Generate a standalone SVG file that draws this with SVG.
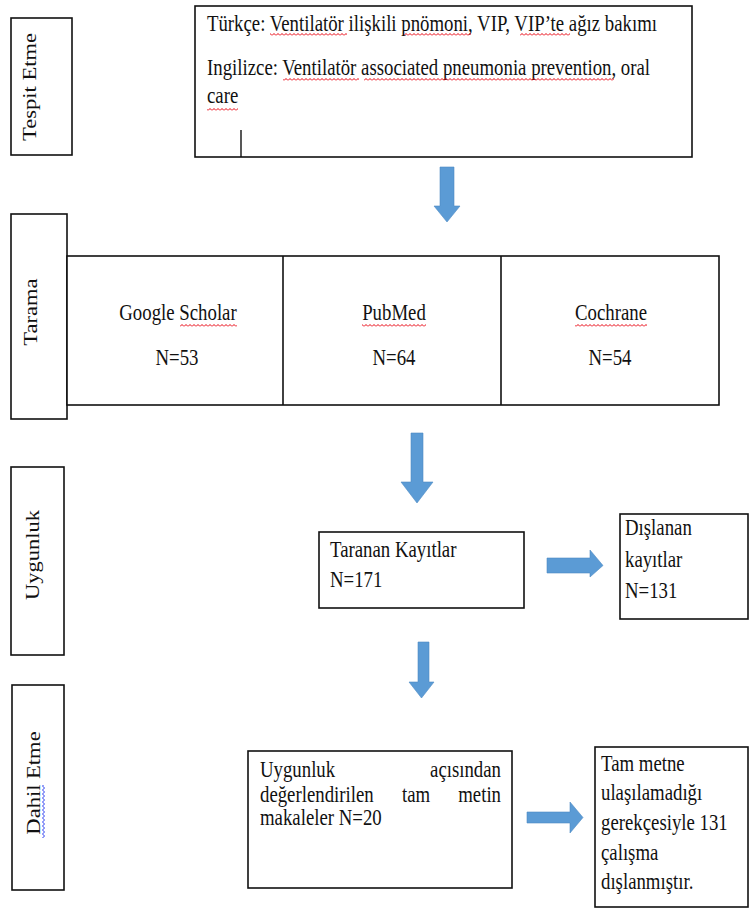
<svg xmlns="http://www.w3.org/2000/svg" width="749" height="908" viewBox="0 0 749 908">
<style>
.box{fill:#fff;stroke:#111;stroke-width:1.6}
.t{font-family:"Liberation Serif","Times New Roman",serif;font-size:18.8px;fill:#111}
.m{text-anchor:middle}
.e{text-anchor:end}
.arr{fill:#5B9BD5;stroke:#4F8BC4;stroke-width:0.6}
</style>
<defs>
<pattern id="sq" width="4" height="3" patternUnits="userSpaceOnUse"><path d="M0 2.5 L2 0.5 L4 2.5" fill="none" stroke="#e8000b" stroke-width="1"/></pattern>
<pattern id="sqb" width="3" height="4" patternUnits="userSpaceOnUse"><path d="M2.5 0 L0.5 2 L2.5 4" fill="none" stroke="#2a3cf0" stroke-width="1"/></pattern>
</defs>
<rect width="749" height="908" fill="#fff"/>

<g id="label-tespit">
<rect class="box" x="11" y="18" width="61" height="137"/>
<text class="t m" transform="translate(36,87) rotate(-90) scale(1.2,1)">Tespit Etme</text>
</g>

<g id="node-keywords">
<rect class="box" x="195" y="6" width="497" height="151"/>
<line x1="241" y1="130" x2="241" y2="157" stroke="#111" stroke-width="1.4"/>
<text class="t" transform="translate(207,31) scale(1,1.2)">Türkçe: Ventilatör ilişkili pnömoni, VIP, VIP’te ağız bakımı</text>
<text class="t" transform="translate(207,75) scale(1,1.2)">Ingilizce: Ventilatör associated pneumonia prevention, oral</text>
<text class="t" transform="translate(207,103) scale(1,1.2)">care</text>
<rect x="270" y="33" width="77" height="3" fill="url(#sq)"/>
<rect x="404" y="33" width="67" height="3" fill="url(#sq)"/>
<rect x="520" y="33" width="50" height="3" fill="url(#sq)"/>
<rect x="283" y="78" width="76" height="3" fill="url(#sq)"/>
<rect x="364" y="78" width="250" height="3" fill="url(#sq)"/>
<rect x="207" y="108" width="31" height="3" fill="url(#sq)"/>
</g>

<g id="label-tarama">
<rect class="box" x="11" y="214" width="56" height="205"/>
<text class="t m" transform="translate(37,312) rotate(-90) scale(1.2,1)">Tarama</text>
</g>

<g id="node-sources">
<rect class="box" x="67" y="256" width="652" height="149"/>
<line x1="283" y1="256" x2="283" y2="405" stroke="#111" stroke-width="1.6"/>
<line x1="501" y1="256" x2="501" y2="405" stroke="#111" stroke-width="1.6"/>
</g>
<g id="node-google">
<text class="t m" transform="translate(178,320) scale(1,1.2)">Google Scholar</text>
<text class="t m" transform="translate(177,365) scale(1,1.2)">N=53</text>
<rect x="180" y="324" width="57" height="3" fill="url(#sq)"/>
</g>
<g id="node-pubmed">
<text class="t m" transform="translate(394,320) scale(1,1.2)">PubMed</text>
<text class="t m" transform="translate(394,365) scale(1,1.2)">N=64</text>
<rect x="362" y="324" width="64" height="3" fill="url(#sq)"/>
</g>
<g id="node-cochrane">
<text class="t m" transform="translate(611,320) scale(1,1.2)">Cochrane</text>
<text class="t m" transform="translate(610,365) scale(1,1.2)">N=54</text>
<rect x="575" y="324" width="72" height="3" fill="url(#sq)"/>
</g>

<g id="label-uygunluk">
<rect class="box" x="11" y="467" width="53" height="188"/>
<text class="t m" transform="translate(39,555) rotate(-90) scale(1.2,1)">Uygunluk</text>
</g>

<g id="node-taranan">
<rect class="box" x="319" y="532" width="205" height="76"/>
<text class="t" transform="translate(330,557) scale(1,1.2)">Taranan Kayıtlar</text>
<text class="t" transform="translate(330,587) scale(1,1.2)">N=171</text>
</g>

<g id="node-dislanan">
<rect class="box" x="620" y="514" width="128" height="105"/>
<text class="t" transform="translate(625,535) scale(1,1.2)">Dışlanan</text>
<text class="t" transform="translate(625,567) scale(1,1.2)">kayıtlar</text>
<text class="t" transform="translate(625,598) scale(1,1.2)">N=131</text>
</g>

<g id="label-dahil">
<rect class="box" x="12" y="685" width="52" height="205"/>
<text class="t m" transform="translate(40,783) rotate(-90) scale(1.2,1)">Dahil Etme</text>
<rect x="42" y="785" width="3" height="53" fill="url(#sqb)"/>
</g>

<g id="node-tammetin">
<rect class="box" x="248" y="751" width="264" height="137"/>
<text class="t" transform="translate(260,777) scale(1,1.2)">Uygunluk</text>
<text class="t e" transform="translate(501,777) scale(1,1.2)">açısından</text>
<text class="t" transform="translate(260,802) scale(1,1.2)">değerlendirilen</text>
<text class="t m" transform="translate(416,802) scale(1,1.2)">tam</text>
<text class="t e" transform="translate(501,802) scale(1,1.2)">metin</text>
<text class="t" transform="translate(260,825) scale(1,1.2)">makaleler N=20</text>
</g>

<g id="node-excluded">
<rect class="box" x="595" y="747" width="153" height="160"/>
<text class="t" transform="translate(601,771) scale(1,1.2)">Tam metne</text>
<text class="t" transform="translate(601,800) scale(1,1.2)">ulaşılamadığı</text>
<text class="t" transform="translate(601,830) scale(1,1.2)">gerekçesiyle 131</text>
<text class="t" transform="translate(601,860) scale(1,1.2)">çalışma</text>
<text class="t" transform="translate(601,889) scale(1,1.2)">dışlanmıştır.</text>
</g>

<g id="connectors">
<path class="arr" d="M440 167 H454 V206 H460 L447 222 L434 206 H440 Z"/>
<path class="arr" d="M411 433 H423 V482 H433 L417 503 L401 482 H411 Z"/>
<path class="arr" d="M418 642 H429 V682 H434 L421.5 698 L409 682 H418 Z"/>
<path class="arr" d="M547 558 H590 V550 L603 565.5 L590 577 V573 H547 Z"/>
<path class="arr" d="M527 812 H570 V802 L583 817.5 L570 833 V823 H527 Z"/>
</g>
</svg>
